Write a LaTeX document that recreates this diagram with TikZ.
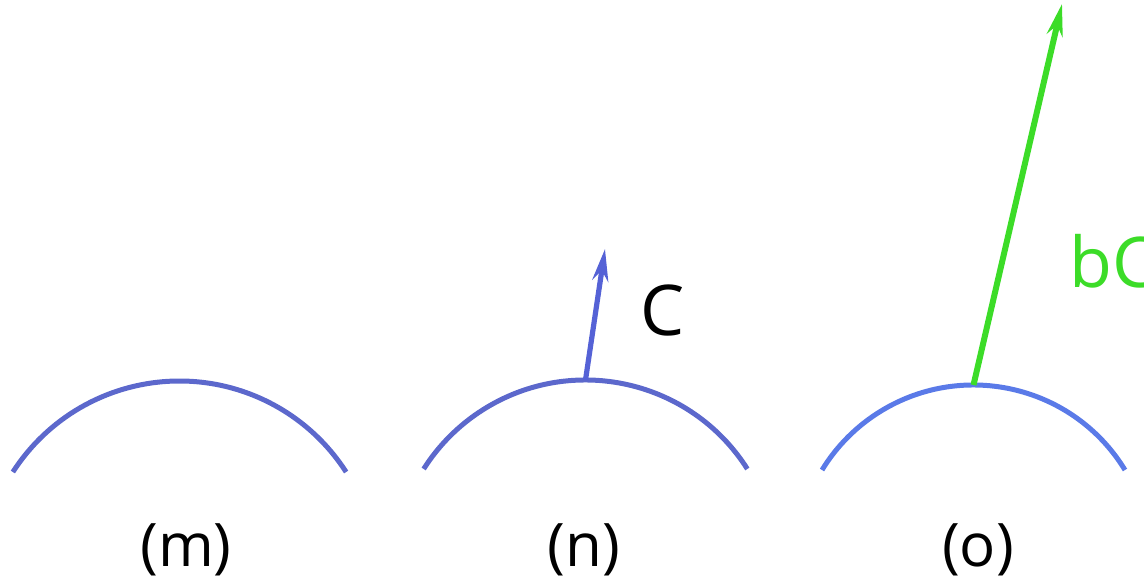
\documentclass[tikz,border=0pt]{standalone}
\usepackage{fontspec}
\setmainfont{Open Sans}
\usetikzlibrary{arrows.meta}
\definecolor{rimA}{RGB}{92,104,204}
\definecolor{rimB}{RGB}{90,122,232}
\definecolor{vecblue}{RGB}{85,98,214}
\definecolor{vecgreen}{RGB}{60,220,40}

\begin{document}
\begin{tikzpicture}[x=0.5pt,y=0.5pt,>={Stealth[length=16pt,width=8pt]}]
\tikzstyle{rim}=[line width=2.5pt]
\tikzstyle{lbl}=[font=\fontsize{30}{36}\selectfont,anchor=base]
\tikzstyle{vlbl}=[font=\fontsize{35}{42}\selectfont,anchor=base west,inner sep=0pt]
\useasboundingbox (0,0) rectangle (1144,581);
% three arcs with their captions
\foreach \n/\cx/\cy/\r/\a/\col/\t in {m/179.5/2/198/32.7/rimA/186,n/585.5/9.3/191.7/32.4/rimA/584,o/973.5/18.5/177.5/31.4/rimB/978} {
 \draw[rim,\col] (\cx,\cy) ++(\a:\r) arc[start angle=\a,end angle=180-\a,radius=\r];
 \coordinate (top\n) at (\cx,\cy+\r);
 \node[lbl] (lab\n) at (\t,14) {(\n)};
}
\coordinate (tipn) at (605,332);
\coordinate (tipo) at (1062,577);
\draw[->,vecblue,line width=2.6pt] (topn) -- (tipn);
\draw[->,vecgreen,line width=3pt] (topo) -- (tipo);
\node[vlbl] (labC) at (640,245) {C};
\node[vlbl,text=vecgreen] (labbC) at (1069,293) {bC};
\end{tikzpicture}
\end{document}
